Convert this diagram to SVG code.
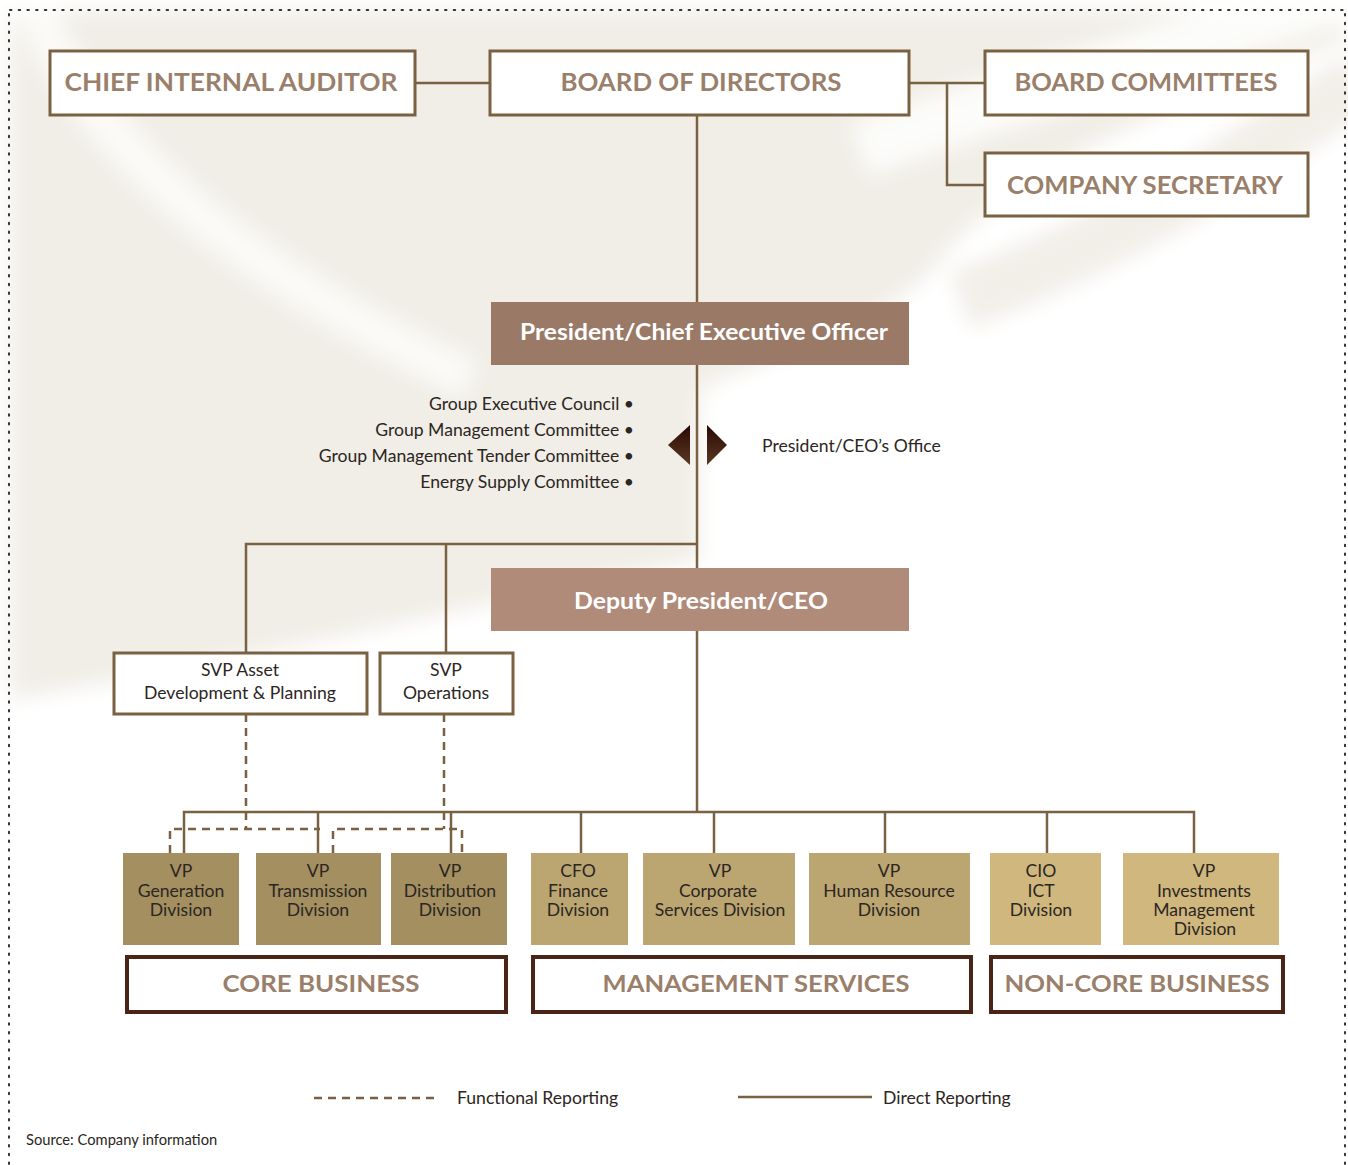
<svg xmlns="http://www.w3.org/2000/svg" width="1348" height="1165" viewBox="0 0 1348 1165">
<defs>
<style>
.box{fill:#ffffff;stroke:#7a6142;stroke-width:3}
.head{font-family:Lato,"Open Sans","Liberation Sans",sans-serif;font-weight:bold;font-size:25px;fill:#9a7f6b;text-anchor:middle}
.exec{fill:#9a7a66}
.dep{fill:#b08b79}
.exectxt{font-family:Lato,"Open Sans","Liberation Sans",sans-serif;font-weight:bold;font-size:23px;fill:#ffffff;text-anchor:middle}
.lbl{font-family:Lato,"Open Sans","Liberation Sans",sans-serif;font-size:17.6px;fill:#2b2622}
.mid{text-anchor:middle}
.end{text-anchor:end}
.core{fill:#a48f60}
.mgmt{fill:#bba571}
.non{fill:#cfb77e}
.cat{fill:#ffffff;stroke:#4a2416;stroke-width:4}
.cattxt{font-family:Lato,"Open Sans","Liberation Sans",sans-serif;font-weight:bold;font-size:23px;fill:#9a7f6b;text-anchor:middle}
.solid{fill:none;stroke:#7a6142;stroke-width:2.5}
.dash{fill:none;stroke:#7a6142;stroke-width:2.5;stroke-dasharray:8 6}
.dots{fill:none;stroke:#333333;stroke-width:2;stroke-dasharray:1.5 7.2;stroke-linecap:round}
</style>
<linearGradient id="tri" x1="0" y1="0" x2="0" y2="1">
<stop offset="0" stop-color="#2a0805"/>
<stop offset="1" stop-color="#5a3a22"/>
</linearGradient>
<filter id="soft" x="-10%" y="-10%" width="120%" height="120%">
<feGaussianBlur stdDeviation="10"/>
</filter>
</defs>

<g id="background">
<rect x="0" y="0" width="1348" height="1165" fill="#ffffff"/>
<g filter="url(#soft)">
<path d="M10,10 H1345 V40 C1200,95 1020,160 940,260 C900,320 760,360 700,390 L700,560 C500,600 300,650 10,700 Z" fill="#f1eee7"/>
<path d="M860,150 C1000,100 1200,40 1360,-10" fill="none" stroke="#ffffff" stroke-width="55" opacity="0.8"/>
<path d="M30,0 C90,140 220,260 470,380" fill="none" stroke="#ffffff" stroke-width="40" opacity="0.7"/>
<path d="M960,300 C1100,250 1250,160 1360,80" fill="none" stroke="#efebe3" stroke-width="60" opacity="0.8"/>
</g>
<path class="dots" d="M10,10 H1345"/>
<path class="dots" d="M9,14 V1165"/>
<path class="dots" d="M1345,14 V1165"/>
</g>

<g id="connectors">
<path class="solid" d="M415,83 H490"/>
<path class="solid" d="M909,83 H985"/>
<path class="solid" d="M947,83 V185 H985"/>
<path class="solid" d="M697,115 V302"/>
<path class="solid" d="M697,365 V568"/>
<path class="solid" d="M697,544 H246 V653"/>
<path class="solid" d="M446,544 V653"/>
<path class="solid" d="M697,631 V812"/>
<path class="solid" d="M184,853 V812 H1194 V853"/>
<path class="solid" d="M318,812 V853"/>
<path class="solid" d="M451,812 V853"/>
<path class="solid" d="M581,812 V853"/>
<path class="solid" d="M714,812 V853"/>
<path class="solid" d="M885,812 V853"/>
<path class="solid" d="M1047,812 V853"/>
<path class="dash" d="M246,714 V829"/>
<path class="dash" d="M444,714 V829"/>
<path class="dash" d="M170,853 V829 H320"/>
<path class="dash" d="M333,853 V829 H462 V853"/>
</g>

<g id="chief-internal-auditor">
<rect class="box" x="50" y="51" width="365" height="64"/>
<text class="head" x="231" y="91" textLength="333" lengthAdjust="spacingAndGlyphs">CHIEF INTERNAL AUDITOR</text>
</g>
<g id="board-of-directors">
<rect class="box" x="490" y="51" width="419" height="64"/>
<text class="head" x="701" y="91" textLength="281" lengthAdjust="spacingAndGlyphs">BOARD OF DIRECTORS</text>
</g>
<g id="board-committees">
<rect class="box" x="985" y="51" width="323" height="64"/>
<text class="head" x="1146" y="91" textLength="263" lengthAdjust="spacingAndGlyphs">BOARD COMMITTEES</text>
</g>
<g id="company-secretary">
<rect class="box" x="985" y="153" width="323" height="63"/>
<text class="head" x="1145" y="194" textLength="276" lengthAdjust="spacingAndGlyphs">COMPANY SECRETARY</text>
</g>

<g id="president-ceo">
<rect class="exec" x="491" y="302" width="418" height="63"/>
<text class="exectxt" x="704" y="340" textLength="368" lengthAdjust="spacingAndGlyphs">President/Chief Executive Officer</text>
</g>

<g id="committees">
<text class="lbl end" x="634" y="410">Group Executive Council •</text>
<text class="lbl end" x="634" y="436">Group Management Committee •</text>
<text class="lbl end" x="634" y="462">Group Management Tender Committee •</text>
<text class="lbl end" x="634" y="488">Energy Supply Committee •</text>
</g>

<g id="ceo-office">
<polygon points="668,445 690,425 690,465" fill="url(#tri)"/>
<polygon points="727,445 707,425 707,465" fill="url(#tri)"/>
<text class="lbl" x="762" y="452">President/CEO’s Office</text>
</g>

<g id="deputy-president">
<rect class="dep" x="491" y="568" width="418" height="63"/>
<text class="exectxt" x="701" y="609" textLength="254" lengthAdjust="spacingAndGlyphs">Deputy President/CEO</text>
</g>

<g id="svp-asset">
<rect class="box" x="114" y="653" width="253" height="61"/>
<text class="lbl mid" x="240" y="676">SVP Asset</text>
<text class="lbl mid" x="240" y="699">Development &amp; Planning</text>
</g>
<g id="svp-operations">
<rect class="box" x="380" y="653" width="133" height="61"/>
<text class="lbl mid" x="446" y="676">SVP</text>
<text class="lbl mid" x="446" y="699">Operations</text>
</g>

<g id="vp-generation">
<rect class="core" x="123" y="853" width="116" height="92"/>
<text class="lbl mid" x="181" y="877">VP</text>
<text class="lbl mid" x="181" y="897">Generation</text>
<text class="lbl mid" x="181" y="916">Division</text>
</g>
<g id="vp-transmission">
<rect class="core" x="256" y="853" width="125" height="92"/>
<text class="lbl mid" x="318" y="877">VP</text>
<text class="lbl mid" x="318" y="897">Transmission</text>
<text class="lbl mid" x="318" y="916">Division</text>
</g>
<g id="vp-distribution">
<rect class="core" x="391" y="853" width="116" height="92"/>
<text class="lbl mid" x="450" y="877">VP</text>
<text class="lbl mid" x="450" y="897">Distribution</text>
<text class="lbl mid" x="450" y="916">Division</text>
</g>
<g id="cfo-finance">
<rect class="mgmt" x="531" y="853" width="97" height="92"/>
<text class="lbl mid" x="578" y="877">CFO</text>
<text class="lbl mid" x="578" y="897">Finance</text>
<text class="lbl mid" x="578" y="916">Division</text>
</g>
<g id="vp-corporate">
<rect class="mgmt" x="643" y="853" width="152" height="92"/>
<text class="lbl mid" x="720" y="877">VP</text>
<text class="lbl mid" x="718" y="897">Corporate</text>
<text class="lbl mid" x="720" y="916">Services Division</text>
</g>
<g id="vp-human-resource">
<rect class="mgmt" x="809" y="853" width="161" height="92"/>
<text class="lbl mid" x="889" y="877">VP</text>
<text class="lbl mid" x="889" y="897">Human Resource</text>
<text class="lbl mid" x="889" y="916">Division</text>
</g>
<g id="cio-ict">
<rect class="non" x="990" y="853" width="111" height="92"/>
<text class="lbl mid" x="1041" y="877">CIO</text>
<text class="lbl mid" x="1041" y="897">ICT</text>
<text class="lbl mid" x="1041" y="916">Division</text>
</g>
<g id="vp-investments">
<rect class="non" x="1123" y="853" width="156" height="92"/>
<text class="lbl mid" x="1204" y="877">VP</text>
<text class="lbl mid" x="1204" y="897">Investments</text>
<text class="lbl mid" x="1204" y="916">Management</text>
<text class="lbl mid" x="1205" y="935">Division</text>
</g>

<g id="core-business">
<rect class="cat" x="127" y="957" width="379" height="55"/>
<text class="cattxt" x="321" y="992" textLength="197" lengthAdjust="spacingAndGlyphs">CORE BUSINESS</text>
</g>
<g id="management-services">
<rect class="cat" x="533" y="957" width="438" height="55"/>
<text class="cattxt" x="756" y="992" textLength="307" lengthAdjust="spacingAndGlyphs">MANAGEMENT SERVICES</text>
</g>
<g id="non-core-business">
<rect class="cat" x="991" y="957" width="292" height="55"/>
<text class="cattxt" x="1137" y="992" textLength="265" lengthAdjust="spacingAndGlyphs">NON-CORE BUSINESS</text>
</g>

<g id="legend">
<path class="dash" d="M314,1098 H438"/>
<text class="lbl" x="457" y="1104">Functional Reporting</text>
<path class="solid" d="M738,1097 H872"/>
<text class="lbl" x="883" y="1104">Direct Reporting</text>
</g>
<text x="26" y="1145" font-family="Lato,'Open Sans','Liberation Sans',sans-serif" font-size="14.7" fill="#2b2622">Source: Company information</text>
</svg>
